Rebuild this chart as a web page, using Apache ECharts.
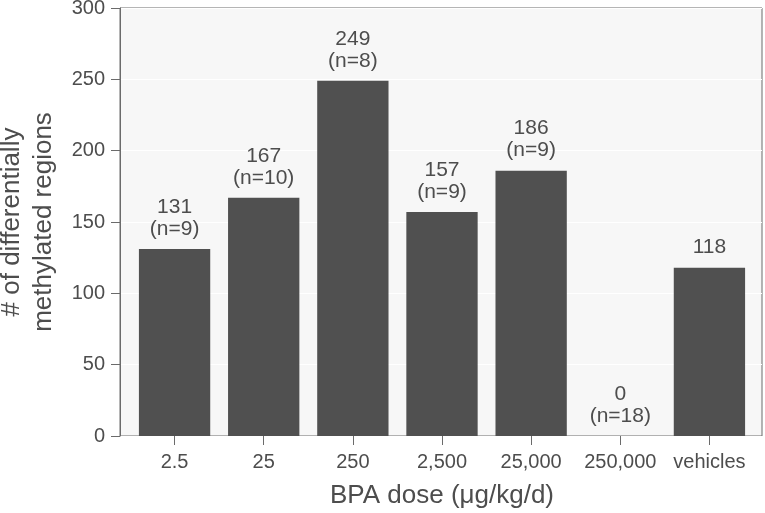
<!DOCTYPE html>
<html>
<head>
<meta charset="utf-8">
<script src="https://cdn.jsdelivr.net/npm/echarts@6/dist/echarts.min.js"></script>
<style>
  html, body { margin: 0; padding: 0; background: #fff; }
  #chart { width: 765px; height: 513px; }
</style>
</head>
<body>
<div id="chart"></div>
<script>
// 剂量分组
var doses = ['2.5', '25', '250', '2,500', '25,000', '250,000', 'vehicles'];
// 差异甲基化区域数
var dmrCounts = [131, 167, 249, 157, 186, 0, 118];
// 每组样本数（vehicles 没有标注）
var sampleN = [9, 10, 8, 9, 9, 18, null];
// y轴刻度
var yMin = 0, yMax = 300, yStep = 50;

var textColor = '#4d4d4d';
var lineColor = '#6b6b6b';
var font = 'Liberation Sans, Arial, sans-serif';

var chart = echarts.init(document.getElementById('chart'));
var option = {
    animation: false,
    grid: [
        //外框 + 背景
        { left: 120, top: 8, width: 642, height: 428, show: true, backgroundColor: '#f7f7f7', borderColor: lineColor, borderWidth: 1, containLabel: false, outerBoundsMode: 'none' },
        //柱子所在的区域，左右各留一点空
        { left: 130, top: 8, width: 624, height: 428, containLabel: false, outerBoundsMode: 'none' }
    ],
    xAxis: [
        { gridIndex: 0, type: 'value', min: 0, max: 1, show: false },
        {
            gridIndex: 1, type: 'category', data: doses,
            axisLine: { show: false },
            axisTick: { show: true, alignWithLabel: true, length: 9, lineStyle: { color: lineColor } },
            axisLabel: { color: textColor, fontSize: 20, fontFamily: font, margin: 16, interval: 0 },
            name: 'BPA dose (μg/kg/d)', nameLocation: 'middle', nameGap: 47,
            nameTextStyle: { color: textColor, fontSize: 26, fontFamily: font }
        }
    ],
    yAxis: [
        {
            gridIndex: 0, type: 'value', min: yMin, max: yMax, interval: yStep,
            axisLine: { show: true, lineStyle: { color: lineColor } },
            axisTick: { show: true, length: 9, lineStyle: { color: lineColor } },
            axisLabel: { color: textColor, fontSize: 20, fontFamily: font, margin: 15 },
            splitLine: { show: true, lineStyle: { color: '#ffffff', width: 1 } },
            name: '# of differentially\nmethylated regions', nameLocation: 'middle', nameGap: 60,
            nameTextStyle: { color: textColor, fontSize: 26, fontFamily: font, lineHeight: 32 }
        },
        { gridIndex: 1, type: 'value', min: yMin, max: yMax, show: false }
    ],
    series: [
        {
            type: 'bar', xAxisIndex: 1, yAxisIndex: 1,
            data: dmrCounts,
            barCategoryGap: '20%',
            itemStyle: { color: '#505050' },
            label: {
                show: true, position: 'top', distance: 9,
                color: textColor, fontSize: 21, fontFamily: font, lineHeight: 22,
                formatter: function (p) {
                    var n = sampleN[p.dataIndex];
                    return p.value + (n != null ? '\n(n=' + n + ')' : '');
                }
            }
        }
    ]
};
chart.setOption(option);
</script>
</body>
</html>
